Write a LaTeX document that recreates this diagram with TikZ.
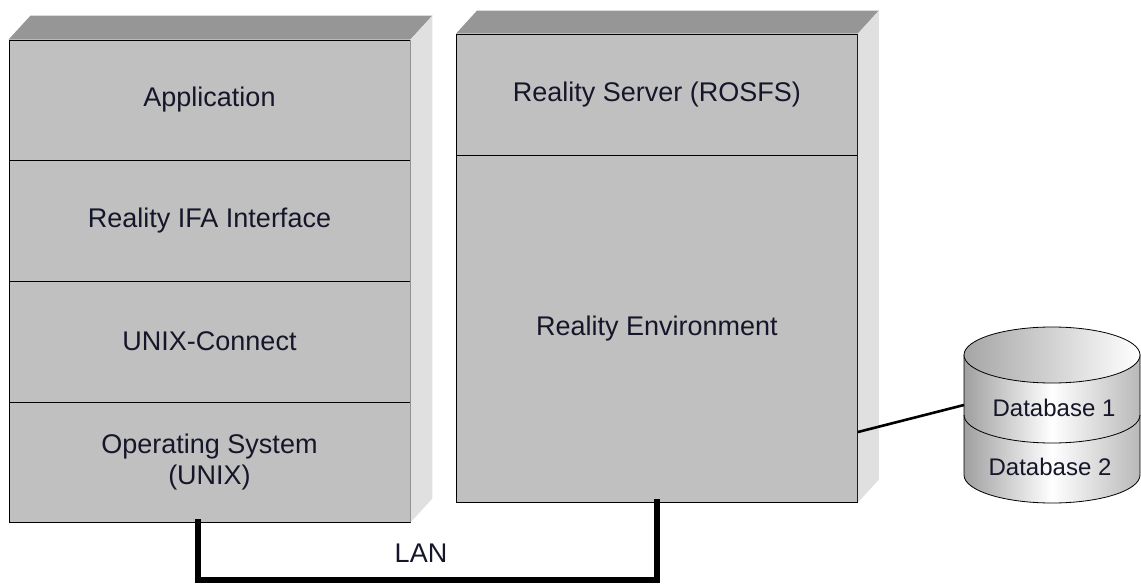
\documentclass[tikz,border=0pt]{standalone}
\usepackage{fontspec}
\setmainfont{Liberation Sans}
\usepackage{tikz}
\usetikzlibrary{arrows.meta}
\definecolor{front}{HTML}{C0C0C0}
\definecolor{topside}{HTML}{969696}
\definecolor{rightside}{HTML}{E0E0E0}
\definecolor{ink}{HTML}{16162A}

\begin{document}
\begin{tikzpicture}[x=1pt, y=-1pt,
    layer/.style={draw=black, fill=front, line width=0.9pt, minimum width=401pt,
      inner sep=0pt, align=center, text=ink, font=\fontsize{27}{31}\selectfont},
    lan/.style={line width=6pt, line cap=rect},
    dbline/.style={line width=2.6pt},
    dblabel/.style={text=ink, font=\fontsize{24}{28}\selectfont}]
        \useasboundingbox (0,0) rectangle (1141,586);

        % client stack
        \node[layer, minimum height=120pt] (app) at (209.5,100) {Application};
        \node[layer, minimum height=121pt] (ifa) at (209.5,220.5) {Reality IFA Interface};
        \node[layer, minimum height=121pt] (ucon) at (209.5,341.5) {UNIX-Connect};
        \node[layer, minimum height=120pt] (os) at (209.5,462) {Operating System\\(UNIX)};
        \fill[topside] (app.north west) -- ++(22,-24) -- ([shift={(22,-24)}]app.north east) -- (app.north east) -- cycle;
        \fill[rightside] (app.north east) -- ++(22,-24) -- ([shift={(22,-24)}]os.south east) -- (os.south east) -- cycle;

        % server stack
        \node[layer, minimum height=121pt] (server) at (657,94.5) {Reality Server (ROSFS)};
        \node[layer, minimum height=347pt] (env) at (657,328.5) {Reality Environment};
        \fill[topside] (server.north west) -- ++(21,-23) -- ([shift={(21,-23)}]server.north east) -- (server.north east) -- cycle;
        \fill[rightside] (server.north east) -- ++(21,-23) -- ([shift={(21,-23)}]env.south east) -- (env.south east) -- cycle;

        % LAN
        \draw[lan] ([xshift=-12pt]os.south) -- ++(0,58) -| (env.south);
        \node[text=ink] (lanlabel) at (421,553) {\fontsize{27}{31}\selectfont LAN};

        % database
        \shade[left color=gray!75, right color=gray!55, middle color=white, draw=black, line width=0.8pt]
          (964,355) -- (964,475) arc[start angle=180, end angle=360, x radius=88pt, y radius=28pt] -- (1140,355) -- cycle;
        \shade[left color=gray!70, right color=white, draw=black, line width=0.8pt]
          (1052,355) ellipse[x radius=88pt, y radius=28pt];
        \draw[line width=0.8pt] (964,415) arc[start angle=180, end angle=360, x radius=88pt, y radius=28pt];
        \node[dblabel] (db1) at (1054,408) {Database 1};
        \node[dblabel] (db2) at (1050,467) {Database 2};
        \coordinate (dbin) at (964,405);

        \draw[dbline] ([yshift=-103.5pt]env.east) -- (dbin);
\end{tikzpicture}
\end{document}
